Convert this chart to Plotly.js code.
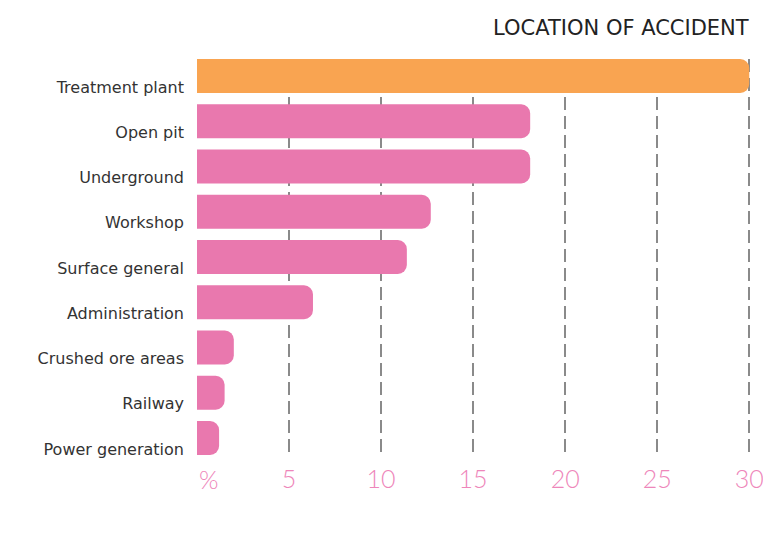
<!DOCTYPE html>
<html>
<head>
<meta charset="utf-8">
<script src="https://cdn.plot.ly/plotly-3.0.1.min.js"></script>
<style>html,body{margin:0;padding:0;background:#fff;}#chart{width:763px;height:541px;}</style>
</head>
<body>
<div id="chart"></div>
<script>
const categories = ["Treatment plant","Open pit","Underground","Workshop","Surface general","Administration","Crushed ore areas","Railway","Power generation"];
const values = [30, 18.1, 18.1, 12.7, 11.4, 6.3, 2.0, 1.5, 1.2];
const barColors = ["#F9A451","#E978AE","#E978AE","#E978AE","#E978AE","#E978AE","#E978AE","#E978AE","#E978AE"];
const tickVals = [5, 10, 15, 20, 25, 30];
const tickText = ["5","10","15","20","25","30"];
const unitLabel = "%";

const trace = {
  type: "bar",
  orientation: "h",
  y: categories,
  x: values,
  width: 0.75,
  marker: {color: barColors, cornerradius: 9, line: {width: 0}},
  hoverinfo: "x+y"
};

const layout = {
  width: 763, height: 541,
  margin: {l: 197, r: 11, t: 59, b: 86},
  paper_bgcolor: "#fff", plot_bgcolor: "#fff",
  showlegend: false,
  title: {
    text: "LOCATION OF ACCIDENT",
    font: {family: "'DejaVu Sans', sans-serif", size: 21, color: "#222"},
    xref: "paper", x: 0.994, xanchor: "right",
    yref: "container", y: 0.948, yanchor: "middle"
  },
  xaxis: {
    range: [0, 30.15],
    tickvals: tickVals, ticktext: tickText,
    showgrid: true, gridcolor: "#8a8a8a", gridwidth: 1.6, griddash: "13px,6px",
    zeroline: false, showline: false, ticks: "",
    ticklabelstandoff: 7,
    ticklabeloverflow: "allow",
    tickfont: {family: "Lato, 'DejaVu Sans', sans-serif", size: 25, color: "#EE86BA", weight: 300},
    fixedrange: true
  },
  yaxis: {
    range: [8.375, -0.375],
    showgrid: false, zeroline: false, showline: false, ticks: "",
    ticklabelstandoff: 12,
    ticklabelshift: -11,
    tickfont: {family: "'DejaVu Sans', sans-serif", size: 16, color: "#333"},
    fixedrange: true
  },
  annotations: [{
    text: unitLabel, xref: "x", yref: "paper", x: 0, y: 0, xanchor: "left", yanchor: "top",
    yshift: -7, showarrow: false,
    font: {family: "Lato, 'DejaVu Sans', sans-serif", size: 25, color: "#EE86BA", weight: 300}
  }]
};

Plotly.newPlot("chart", [trace], layout, {displayModeBar: false, staticPlot: true});
</script>
</body>
</html>
